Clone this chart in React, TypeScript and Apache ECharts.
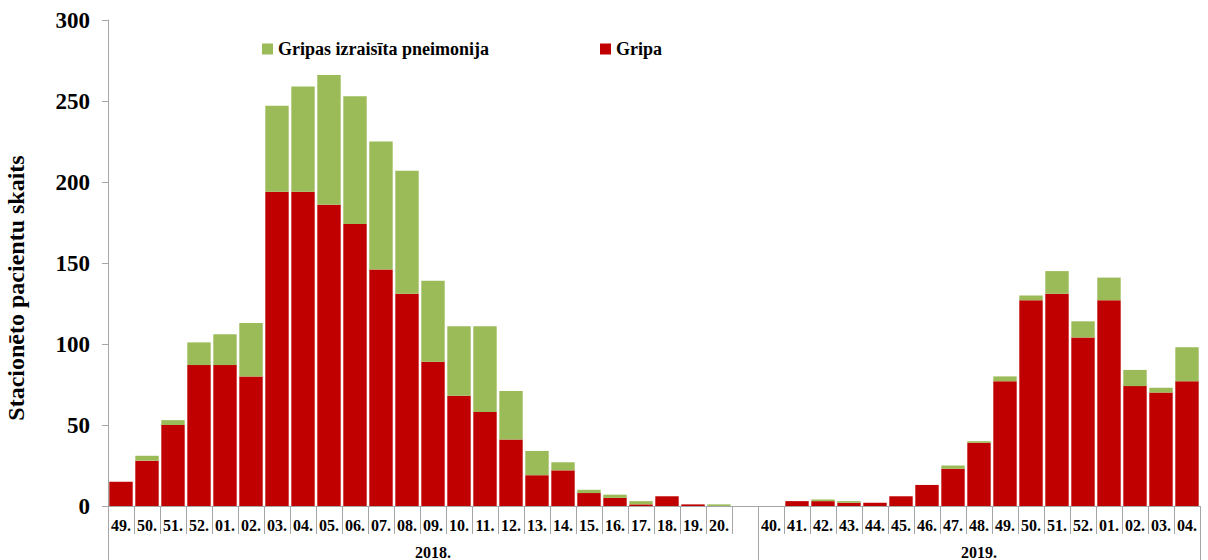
import React, { useEffect, useRef } from "react";
import * as echarts from "echarts";

const weeks = [
  "49.", "50.", "51.", "52.", "01.", "02.", "03.", "04.", "05.", "06.", "07.", "08.",
  "09.", "10.", "11.", "12.", "13.", "14.", "15.", "16.", "17.", "18.", "19.", "20.", "",
  "40.", "41.", "42.", "43.", "44.", "45.", "46.", "47.", "48.", "49.", "50.", "51.", "52.",
  "01.", "02.", "03.", "04.",
];

const gripa = [
  15, 28, 50, 87, 87, 80, 194, 194, 186, 174, 146, 131,
  89, 68, 58, 41, 19, 22, 8, 5, 1, 6, 1, 0, null,
  0, 3, 3, 2, 2, 6, 13, 23, 39, 77, 127, 131, 104,
  127, 74, 70, 77,
];

const pneimonija = [
  0, 3, 3, 14, 19, 33, 53, 65, 80, 79, 79, 76,
  50, 43, 53, 30, 15, 5, 2, 2, 2, 0, 0, 1, null,
  0, 0, 1, 1, 0, 0, 0, 2, 1, 3, 3, 14, 10,
  14, 10, 3, 21,
];

const yearLabels = ["2018.", "2019."];
const yearCenters = [12.5, 33.5];
const yearBounds = [0, 25, 42];

const yTicks = { min: 0, max: 300, interval: 50 };

const FONT = "'Liberation Serif', 'Times New Roman', serif";
const AXIS_GRAY = "#a6a6a6";

export default function App() {
  const ref = useRef<HTMLDivElement>(null);
  useEffect(() => {
    document.body.style.margin = "0";
    const chart = echarts.init(ref.current!, null, { renderer: "svg" });
    chart.setOption({
      animation: false,
      textStyle: { fontFamily: FONT },
      legend: {
        data: ["Gripas izraisīta pneimonija", "Gripa"],
        left: 257,
        top: 35,
        itemWidth: 11,
        itemHeight: 11,
        itemGap: 111,
        icon: "rect",
        textStyle: { fontFamily: FONT, fontWeight: "bold", fontSize: 18, color: "#000" },
      },
      grid: {
        left: 108,
        right: 8,
        top: 20,
        bottom: 54,
        containLabel: false,
        outerBoundsMode: "none",
      },
      xAxis: [
        {
          type: "category",
          data: weeks,
          axisLine: { show: true, lineStyle: { color: AXIS_GRAY } },
          axisTick: { show: true, interval: 0, length: 28, lineStyle: { color: AXIS_GRAY } },
          axisLabel: {
            interval: 0,
            margin: 11,
            color: "#000",
            fontFamily: FONT,
            fontWeight: "bold",
            fontSize: 16,
          },
        },
        {
          type: "value",
          position: "bottom",
          min: 0,
          max: 42,
          axisLine: { show: false },
          splitLine: { show: false },
          axisTick: {
            show: true,
            length: 54,
            customValues: yearBounds,
            lineStyle: { color: AXIS_GRAY },
          },
          axisLabel: {
            margin: 38,
            customValues: yearCenters,
            formatter: (v: number) => yearLabels[yearCenters.indexOf(v)] ?? "",
            color: "#000",
            fontFamily: FONT,
            fontWeight: "bold",
            fontSize: 16,
          },
        },
      ],
      yAxis: {
        type: "value",
        min: yTicks.min,
        max: yTicks.max,
        interval: yTicks.interval,
        name: "Stacionēto pacientu skaits",
        nameLocation: "middle",
        nameRotate: 90,
        nameGap: 80,
        nameTextStyle: {
          fontFamily: FONT,
          fontWeight: "bold",
          fontSize: 24,
          color: "#000",
          padding: [0, 50, 0, 0],
        },
        axisLine: { show: true, lineStyle: { color: AXIS_GRAY } },
        axisTick: { show: true, length: 6, lineStyle: { color: AXIS_GRAY } },
        splitLine: { show: false },
        axisLabel: {
          margin: 18,
          color: "#000",
          fontFamily: FONT,
          fontWeight: "bold",
          fontSize: 23,
        },
      },
      series: [
        {
          name: "Gripa",
          type: "bar",
          stack: "total",
          data: gripa,
          barCategoryGap: "10%",
          itemStyle: { color: "#C00000" },
        },
        {
          name: "Gripas izraisīta pneimonija",
          type: "bar",
          stack: "total",
          data: pneimonija,
          barCategoryGap: "10%",
          itemStyle: { color: "#9BBB59" },
        },
      ],
    });
    return () => chart.dispose();
  }, []);
  return <div ref={ref} style={{ width: 1208, height: 560 }} />;
}
